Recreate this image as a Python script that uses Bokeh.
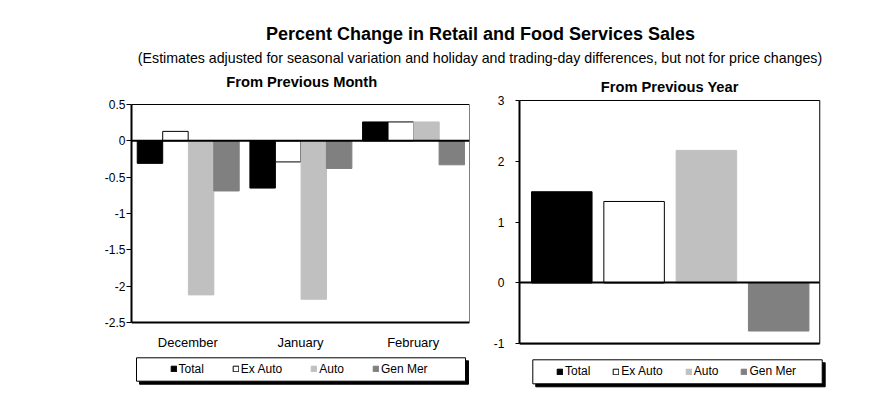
from bokeh.plotting import figure
from bokeh.models import (Range1d, FactorRange, Label, Legend, LegendItem, Span, LinearAxis,
                          BoxAnnotation, FixedTicker, CustomJSTickFormatter, ColumnDataSource,
                          CDSView, IndexFilter)
from bokeh.transform import dodge
from bokeh.layouts import column, row
from bokeh.embed import file_html
from bokeh.resources import INLINE

# ---------------- data ----------------
months = ["December", "January", "February"]
series = ["Total", "Ex Auto", "Auto", "Gen Mer"]
month_total = [-0.31, -0.65, 0.26]
month_ex_auto = [0.13, -0.29, 0.26]
month_auto = [-2.12, -2.18, 0.26]
month_gen_mer = [-0.69, -0.38, -0.33]
year_values = [1.50, 1.34, 2.18, -0.79]
month_ticks = [0.5, 0, -0.5, -1, -1.5, -2, -2.5]
year_ticks = [3, 2, 1, 0, -1]

title_text = "Percent Change in Retail and Food Services Sales"
subtitle_text = ("(Estimates adjusted for seasonal variation and holiday and trading-day "
                 "differences, but not for price changes)")
left_title = "From Previous Month"
right_title = "From Previous Year"

# ---------------- style ----------------
FONT = "Liberation Sans"
fills = ["#000000", "#ffffff", "#c0c0c0", "#808080"]
lines = ["#000000", "#000000", "#c0c0c0", "#808080"]

# ---------------- title strip ----------------
TW, TH = 891, 95
pt = figure(width=TW, height=TH, x_range=Range1d(0, TW), y_range=Range1d(TH, 0),
            output_backend="svg", toolbar_location=None, min_border=0,
            x_axis_location=None, y_axis_location=None)
pt.grid.visible = False
pt.outline_line_color = None
for x, y, txt, size, style in [(480, 33.3, title_text, "18px", "bold"),
                               (479.5, 57.5, subtitle_text, "14.2px", "normal"),
                               (301.2, 81.7, left_title, "14.7px", "bold"),
                               (669.2, 86.5, right_title, "14.7px", "bold")]:
    pt.add_layout(Label(x=x, y=y, text=txt, text_align="center", text_baseline="alphabetic",
                        text_font=FONT, text_font_size=size, text_font_style=style,
                        text_color="black"))


def style_common(p):
    p.grid.visible = False
    p.outline_line_color = None
    p.background_fill_color = "white"
    p.border_fill_color = "white"


def style_axis(ax, size="12px"):
    ax.axis_line_color = "black"
    ax.axis_line_width = 2
    ax.minor_tick_line_color = None
    ax.major_label_text_font = FONT
    ax.major_label_text_font_size = size
    ax.major_label_text_font_style = "normal"
    ax.major_label_text_color = "black"


def add_legend(p, renderers, box, shadow, vx, vy, spacing):
    l, r, t, b = shadow
    p.add_layout(BoxAnnotation(left=l, right=r, top=t, bottom=b,
                               fill_color="black", fill_alpha=1, line_color="black",
                               line_alpha=1, line_width=1))
    l, r, t, b = box
    p.add_layout(BoxAnnotation(left=l, right=r, top=t, bottom=b,
                               fill_color="white", fill_alpha=1, line_color="black",
                               line_width=1, line_alpha=1))
    items = [LegendItem(label=s, renderers=[rr]) for s, rr in zip(series, renderers)]
    leg = Legend(items=items, orientation="horizontal", location=(vx, vy),
                 padding=0, margin=0, spacing=spacing, glyph_width=7, glyph_height=7,
                 label_standoff=2, label_height=14, label_width=10, label_text_font=FONT,
                 label_text_font_size="12px", label_text_color="black",
                 background_fill_alpha=0, border_line_color=None)
    p.add_layout(leg)


# ---------------- left chart ----------------
p1 = figure(width=486, height=303, x_range=FactorRange(*months),
            y_range=Range1d(-3.5459, 0.6239), output_backend="svg", toolbar_location=None,
            min_border_left=131, min_border_right=17, min_border_top=0, min_border_bottom=0)
style_common(p1)
src1 = ColumnDataSource(dict(month=months, Total=month_total, ExAuto=month_ex_auto,
                             Auto=month_auto, GenMer=month_gen_mer))
cols = ["Total", "ExAuto", "Auto", "GenMer"]
offs = [-0.336, -0.110, 0.118, 0.343]
rends1 = []
for c, off, fc, lc in zip(cols, offs, fills, lines):
    rends1.append(p1.vbar(x=dodge("month", off, range=p1.x_range), top=c, width=0.226,
                          source=src1, fill_color=fc, line_color=lc, line_width=1))
# chart border
p1.add_layout(BoxAnnotation(bottom=month_ticks[-1], top=month_ticks[0], fill_alpha=0,
                            line_color="black", line_width=1, line_alpha=1))
p1.add_layout(Span(location=0, dimension="width", line_color="black", line_width=2))
style_axis(p1.yaxis[0])
p1.yaxis.ticker = FixedTicker(ticks=month_ticks)
p1.yaxis.formatter = CustomJSTickFormatter(code="return tick.toString()")
p1.yaxis.bounds = (month_ticks[-1], month_ticks[0])
p1.yaxis.major_tick_out = 5
p1.yaxis.major_tick_in = 0
p1.yaxis.major_label_standoff = 1
style_axis(p1.xaxis[0], "13px")
p1.xaxis.fixed_location = month_ticks[-1]
p1.xaxis.major_tick_line_color = None
p1.xaxis.major_label_standoff = 7
add_legend(p1, rends1,
           (0.0444, 2.9645, -2.9858, -3.3078),
           (0.071, 2.991, -3.027, -3.349),
           38.5, 22.5, 28)

# ---------------- right chart ----------------
xpos = list(range(len(series)))
p2 = figure(width=405, height=303, x_range=Range1d(-0.585, 3.689),
            y_range=Range1d(-1.8993, 3.0822), output_backend="svg", toolbar_location=None,
            min_border_left=33, min_border_right=63, min_border_top=0, min_border_bottom=0)
style_common(p2)
src2 = ColumnDataSource(dict(x=xpos, val=year_values, fill=fills, line=lines))
rends2 = []
for i in range(len(series)):
    rends2.append(p2.vbar(x="x", top="val", width=0.837, source=src2, fill_color="fill",
                          line_color="line", line_width=1,
                          view=CDSView(filter=IndexFilter([i]))))
x_lo, x_hi = -0.585, 3.568
p2.add_layout(BoxAnnotation(right=x_hi, bottom=year_ticks[-1], top=year_ticks[0],
                            fill_alpha=0, line_color="black", line_width=1, line_alpha=1))
style_axis(p2.yaxis[0])
p2.yaxis.ticker = FixedTicker(ticks=year_ticks)
p2.yaxis.formatter = CustomJSTickFormatter(code="return tick.toString()")
p2.yaxis.bounds = (year_ticks[-1], year_ticks[0])
p2.yaxis.major_tick_out = 4
p2.yaxis.major_tick_in = 0
p2.yaxis.major_label_standoff = 11
style_axis(p2.xaxis[0])
p2.xaxis.fixed_location = year_ticks[-1]
p2.xaxis.bounds = (x_lo, x_hi)
p2.xaxis.ticker = FixedTicker(ticks=[])
p2.xaxis.major_tick_line_color = None
p2.xaxis.major_label_text_font_size = "0px"
zero_ax = LinearAxis(fixed_location=0, bounds=(x_lo, x_hi), ticker=FixedTicker(ticks=[]))
style_axis(zero_ax)
zero_ax.major_tick_line_color = None
zero_ax.major_label_text_font_size = "0px"
p2.add_layout(zero_ax, "below")
add_legend(p2, rends2,
           (-0.401, 3.602, -1.263, -1.658),
           (-0.360, 3.643, -1.312, -1.707),
           37, 19.7, 22)

layout = column(pt, row(p1, p2))
open("out.html", "w").write(file_html(layout, INLINE))
